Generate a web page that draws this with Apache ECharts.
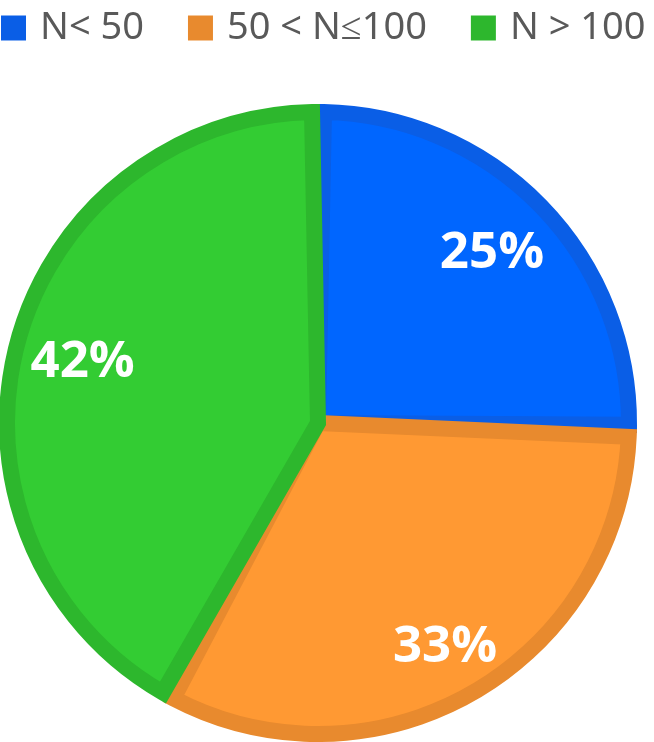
<!DOCTYPE html>
<html>
<head>
<meta charset="utf-8">
<script src="https://cdn.jsdelivr.net/npm/echarts@6/dist/echarts.min.js"></script>
<style>
  html, body { margin: 0; padding: 0; background: #fff; }
  #chart { width: 654px; height: 742px; }
</style>
</head>
<body>
<div id="chart"></div>
<script>
// groups and their share of the pie
const names = ['N< 50', '50 < N≤100', 'N > 100']
const values = [25.4, 32.6, 42.0]

const fillColor = ['#0066FF', '#FF9933', '#33CC33']
const edgeColor = ['#0A5EE6', '#E88A2E', '#2DB72D']
// small nudges for the percentage text
const labelOffset = [[0, 0], [6, 14], [0, 0]]

const center = [318, 423]

function pieData(extra) {
  return names.map((name, i) => Object.assign({ name: name, value: values[i] }, extra(i)))
}

const chart = echarts.init(document.getElementById('chart'))

const option = {
  animation: false,
  legend: {
    data: names,
    left: 1,
    top: 9,
    width: 700,
    padding: 0,
    itemWidth: 25,
    itemHeight: 25,
    itemGap: 44,
    icon: 'rect',
    selectedMode: false,
    textStyle: {
      fontFamily: 'Noto Sans',
      fontSize: 38,
      color: '#595959',
      padding: [0, 0, 0, 9]
    }
  },
  series: [
    // darker edge colour underneath
    {
      type: 'pie',
      center: center,
      radius: [0, 317],
      startAngle: 90,
      clockwise: true,
      silent: true,
      label: { show: false },
      labelLine: { show: false },
      emphasis: { disabled: true },
      data: pieData((i) => ({ itemStyle: { color: edgeColor[i] } }))
    },
    // lighter fill on top, kept inside each slice
    {
      type: 'pie',
      center: center,
      radius: [0, 311],
      startAngle: 90,
      clockwise: true,
      padAngle: 2.2,
      silent: true,
      label: { show: false },
      labelLine: { show: false },
      emphasis: { disabled: true },
      data: pieData((i) => ({
        itemStyle: {
          color: fillColor[i],
          borderColor: edgeColor[i],
          borderWidth: 16,
          borderJoin: 'miter'
        }
      }))
    },
    // percentage labels
    {
      type: 'pie',
      center: center,
      radius: [163, 317],
      startAngle: 90,
      clockwise: true,
      silent: true,
      emphasis: { disabled: true },
      labelLine: { show: false },
      label: {
        show: true,
        position: 'inside',
        formatter: (p) => Math.round(p.percent) + '%',
        color: '#fff',
        fontFamily: 'Open Sans',
        fontWeight: 'bold',
        fontSize: 51
      },
      data: pieData((i) => ({
        itemStyle: { color: 'transparent' },
        label: { offset: labelOffset[i] }
      }))
    }
  ]
}

chart.setOption(option)
</script>
</body>
</html>
